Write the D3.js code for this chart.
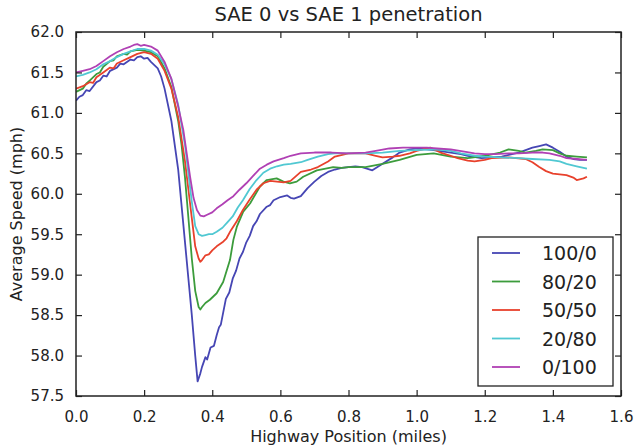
<!DOCTYPE html>
<html>
<head>
<meta charset="utf-8">
<script src="https://cdn.jsdelivr.net/npm/d3@7"></script>
<style>
  html, body { margin: 0; padding: 0; background: #ffffff; }
  svg { display: block; }
  text { font-family: "DejaVu Sans", sans-serif; fill: #222; }
</style>
</head>
<body>
<svg id="chart" width="634" height="447"></svg>
<script>
// Average speed (mph) along the highway, one run per SAE 0 / SAE 1 mix.
// Each entry is [position in miles, average speed in mph].
const speed100_0 = [
  [0.00,61.15],[0.01,61.20],[0.02,61.22],[0.03,61.28],[0.04,61.27],[0.06,61.38],[0.07,61.40],[0.08,61.46],
  [0.09,61.45],[0.10,61.52],[0.12,61.56],[0.13,61.61],[0.14,61.60],[0.16,61.66],[0.17,61.65],[0.18,61.69],
  [0.19,61.70],[0.20,61.67],[0.21,61.68],[0.22,61.63],[0.24,61.55],[0.25,61.45],[0.26,61.30],[0.28,60.90],
  [0.30,60.30],[0.31,59.85],[0.32,59.40],[0.33,58.95],[0.34,58.50],[0.35,58.00],[0.357,57.68],[0.365,57.78],
  [0.37,57.86],[0.38,57.98],[0.385,57.95],[0.395,58.10],[0.405,58.12],[0.413,58.25],[0.42,58.35],[0.425,58.38],
  [0.44,58.70],[0.45,58.78],[0.46,58.95],[0.47,59.05],[0.48,59.20],[0.49,59.28],[0.50,59.40],[0.51,59.48],
  [0.52,59.60],[0.53,59.66],[0.54,59.75],[0.56,59.84],[0.57,59.86],[0.58,59.92],[0.60,59.96],[0.62,59.98],
  [0.63,59.95],[0.64,59.94],[0.66,59.97],[0.68,60.07],[0.70,60.15],[0.72,60.22],[0.74,60.27],[0.76,60.30],
  [0.78,60.32],[0.80,60.33],[0.82,60.34],[0.84,60.33],[0.87,60.29],[0.90,60.37],[0.93,60.45],[0.95,60.51],
  [0.98,60.55],[1.00,60.56],[1.03,60.55],[1.05,60.54],[1.08,60.52],[1.10,60.51],[1.13,60.49],[1.15,60.47],
  [1.19,60.44],[1.22,60.45],[1.25,60.46],[1.28,60.49],[1.30,60.51],[1.32,60.54],[1.34,60.57],[1.36,60.59],
  [1.38,60.61],[1.40,60.57],[1.42,60.52],[1.44,60.46],[1.46,60.43],[1.48,60.42],[1.50,60.42]
];
const speed80_20 = [
  [0.00,61.26],[0.02,61.30],[0.03,61.36],[0.04,61.40],[0.06,61.48],[0.07,61.50],[0.08,61.57],[0.10,61.64],
  [0.11,61.65],[0.12,61.70],[0.14,61.73],[0.15,61.72],[0.16,61.76],[0.18,61.78],[0.20,61.77],[0.22,61.75],
  [0.24,61.70],[0.26,61.55],[0.28,61.32],[0.30,60.90],[0.31,60.60],[0.32,60.20],[0.33,59.70],[0.34,59.20],
  [0.35,58.80],[0.36,58.60],[0.365,58.57],[0.37,58.60],[0.38,58.65],[0.393,58.69],[0.413,58.77],[0.432,58.91],
  [0.452,59.18],[0.462,59.43],[0.472,59.59],[0.491,59.78],[0.511,59.88],[0.54,60.09],[0.56,60.17],[0.589,60.19],
  [0.609,60.15],[0.628,60.13],[0.648,60.15],[0.667,60.21],[0.707,60.29],[0.755,60.33],[0.78,60.32],[0.80,60.33],
  [0.85,60.33],[0.90,60.37],[0.95,60.42],[1.00,60.48],[1.05,60.50],[1.10,60.46],[1.15,60.44],[1.20,60.47],
  [1.245,60.51],[1.27,60.55],[1.30,60.53],[1.32,60.51],[1.35,60.53],[1.37,60.55],[1.40,60.54],[1.42,60.50],
  [1.44,60.47],[1.47,60.46],[1.50,60.45]
];
const speed50_50 = [
  [0.00,61.30],[0.02,61.33],[0.04,61.38],[0.05,61.37],[0.06,61.44],[0.08,61.50],[0.10,61.56],[0.11,61.55],
  [0.12,61.61],[0.14,61.65],[0.16,61.69],[0.18,61.73],[0.20,61.75],[0.22,61.73],[0.24,61.67],[0.26,61.52],
  [0.28,61.30],[0.30,60.95],[0.32,60.40],[0.33,60.05],[0.34,59.70],[0.35,59.35],[0.36,59.20],[0.365,59.16],
  [0.37,59.18],[0.38,59.24],[0.39,59.25],[0.40,59.30],[0.413,59.35],[0.43,59.40],[0.442,59.45],[0.455,59.55],
  [0.472,59.66],[0.49,59.80],[0.51,59.93],[0.53,60.05],[0.55,60.13],[0.57,60.16],[0.59,60.15],[0.61,60.14],
  [0.63,60.16],[0.66,60.27],[0.69,60.30],[0.71,60.33],[0.74,60.40],[0.76,60.46],[0.80,60.50],[0.85,60.50],
  [0.88,60.47],[0.90,60.45],[0.93,60.46],[0.95,60.47],[0.98,60.50],[1.00,60.53],[1.04,60.57],[1.07,60.51],
  [1.10,60.47],[1.12,60.44],[1.15,60.41],[1.17,60.40],[1.20,60.42],[1.22,60.44],[1.27,60.45],[1.32,60.43],
  [1.34,60.39],[1.36,60.33],[1.38,60.28],[1.40,60.25],[1.42,60.24],[1.44,60.23],[1.46,60.20],[1.47,60.17],
  [1.49,60.19],[1.50,60.21]
];
const speed20_80 = [
  [0.00,61.45],[0.02,61.47],[0.04,61.50],[0.06,61.54],[0.08,61.60],[0.10,61.64],[0.12,61.69],[0.14,61.73],
  [0.16,61.76],[0.18,61.79],[0.20,61.79],[0.22,61.77],[0.24,61.72],[0.26,61.60],[0.28,61.42],[0.30,61.10],
  [0.32,60.60],[0.33,60.25],[0.34,59.90],[0.35,59.60],[0.36,59.50],[0.37,59.48],[0.38,59.49],[0.39,59.50],
  [0.40,59.50],[0.413,59.53],[0.43,59.58],[0.445,59.65],[0.46,59.72],[0.475,59.83],[0.49,59.92],[0.51,60.06],
  [0.53,60.17],[0.55,60.26],[0.57,60.31],[0.59,60.34],[0.61,60.36],[0.63,60.37],[0.66,60.39],[0.68,60.42],
  [0.71,60.46],[0.74,60.49],[0.76,60.50],[0.80,60.50],[0.85,60.50],[0.90,60.51],[0.95,60.53],[1.00,60.54],
  [1.05,60.55],[1.08,60.54],[1.10,60.53],[1.13,60.50],[1.17,60.47],[1.20,60.46],[1.245,60.45],[1.30,60.44],
  [1.34,60.43],[1.39,60.42],[1.42,60.40],[1.44,60.37],[1.47,60.34],[1.50,60.31]
];
const speed0_100 = [
  [0.00,61.50],[0.02,61.52],[0.04,61.54],[0.06,61.58],[0.08,61.64],[0.10,61.70],[0.12,61.75],[0.14,61.79],
  [0.16,61.82],[0.17,61.84],[0.18,61.85],[0.19,61.83],[0.20,61.84],[0.22,61.82],[0.24,61.77],[0.26,61.63],
  [0.28,61.42],[0.30,61.08],[0.315,60.79],[0.325,60.50],[0.335,60.21],[0.345,59.95],[0.355,59.80],[0.365,59.73],
  [0.375,59.72],[0.385,59.74],[0.40,59.77],[0.413,59.82],[0.43,59.87],[0.445,59.92],[0.462,59.97],[0.48,60.05],
  [0.50,60.13],[0.52,60.22],[0.54,60.31],[0.56,60.36],[0.58,60.40],[0.61,60.44],[0.63,60.47],[0.66,60.50],
  [0.70,60.51],[0.75,60.51],[0.80,60.50],[0.85,60.51],[0.88,60.53],[0.92,60.56],[0.96,60.57],[1.00,60.57],
  [1.03,60.57],[1.06,60.56],[1.10,60.55],[1.14,60.52],[1.17,60.50],[1.20,60.49],[1.23,60.49],[1.27,60.50],
  [1.30,60.50],[1.34,60.51],[1.37,60.51],[1.39,60.50],[1.42,60.47],[1.44,60.44],[1.47,60.43],[1.50,60.42]
];

const seriesNames = ["100/0", "80/20", "50/50", "20/80", "0/100"];
const seriesColors = ["#4646b4", "#3c9c3c", "#e8412c", "#50c8d2", "#b040b4"];
const seriesData = [speed100_0, speed80_20, speed50_50, speed20_80, speed0_100];

const xTicks = [0.0, 0.2, 0.4, 0.6, 0.8, 1.0, 1.2, 1.4, 1.6];
const yTicks = [57.5, 58.0, 58.5, 59.0, 59.5, 60.0, 60.5, 61.0, 61.5, 62.0];

const titleText = "SAE 0 vs SAE 1 penetration";
const xLabelText = "Highway Position (miles)";
const yLabelText = "Average Speed (mph)";

const margin = { left: 76, right: 13, top: 32, bottom: 51 };
const W = 634, H = 447;
const innerW = W - margin.left - margin.right;
const innerH = H - margin.top - margin.bottom;

const svg = d3.select("#chart");
const g = svg.append("g").attr("transform", `translate(${margin.left},${margin.top})`);

const x = d3.scaleLinear().domain([0, 1.6]).range([0, innerW]);
const y = d3.scaleLinear().domain([57.5, 62.0]).range([innerH, 0]);

// clip the curves to the plotting area
svg.append("defs").append("clipPath").attr("id", "plot-clip")
  .append("rect").attr("width", innerW).attr("height", innerH);

const line = d3.line().x(d => x(d[0])).y(d => y(d[1]));

const curves = g.append("g").attr("clip-path", "url(#plot-clip)");
seriesData.forEach((data, i) => {
  curves.append("path")
    .datum(data)
    .attr("d", line)
    .attr("fill", "none")
    .attr("stroke", seriesColors[i])
    .attr("stroke-width", 1.8)
    .attr("stroke-linejoin", "round");
});

// axes: ticks point inward on all four sides
const tickLen = 6;
const fmt = d3.format(".1f");
const bottomAxis = d3.axisBottom(x).tickValues(xTicks).tickFormat(fmt).tickSizeInner(-tickLen).tickSizeOuter(0).tickPadding(tickLen + 9);
const leftAxis = d3.axisLeft(y).tickValues(yTicks).tickFormat(fmt).tickSizeInner(-tickLen).tickSizeOuter(0).tickPadding(tickLen + 6);
const topAxis = d3.axisTop(x).tickValues(xTicks).tickFormat("").tickSizeInner(-tickLen).tickSizeOuter(0);
const rightAxis = d3.axisRight(y).tickValues(yTicks).tickFormat("").tickSizeInner(-tickLen).tickSizeOuter(0);

function styleAxis(sel) {
  sel.select(".domain").remove();
  sel.selectAll(".tick line").attr("stroke", "#222").attr("stroke-width", 1.2);
  sel.selectAll(".tick text").attr("fill", "#222").style("font-size", "15px").style("font-family", "'DejaVu Sans', sans-serif");
}

g.append("g").attr("transform", `translate(0,${innerH})`).call(bottomAxis).call(styleAxis);
g.append("g").call(leftAxis).call(styleAxis);
g.append("g").call(topAxis).call(styleAxis);
g.append("g").attr("transform", `translate(${innerW},0)`).call(rightAxis).call(styleAxis);

// frame
g.append("rect").attr("width", innerW).attr("height", innerH)
  .attr("fill", "none").attr("stroke", "#222").attr("stroke-width", 1.5);

// title and axis labels
svg.append("text").attr("x", margin.left + innerW / 2).attr("y", 21)
  .attr("text-anchor", "middle").style("font-size", "19.5px").text(titleText);
svg.append("text").attr("x", margin.left + innerW / 2).attr("y", 442)
  .attr("text-anchor", "middle").style("font-size", "16px").text(xLabelText);
svg.append("text").attr("transform", `translate(22,${margin.top + innerH / 2}) rotate(-90)`)
  .attr("text-anchor", "middle").style("font-size", "16px").text(yLabelText);

// legend
const legend = svg.append("g").attr("transform", "translate(478,237)");
legend.append("rect").attr("width", 135).attr("height", 149)
  .attr("fill", "#fff").attr("stroke", "#222").attr("stroke-width", 1.3);
seriesNames.forEach((name, i) => {
  const cy = 16 + i * 28.5;
  legend.append("line").attr("x1", 14).attr("x2", 42).attr("y1", cy).attr("y2", cy)
    .attr("stroke", seriesColors[i]).attr("stroke-width", 1.8);
  legend.append("text").attr("x", 64).attr("y", cy + 7)
    .style("font-size", "19px").text(name);
});
</script>
</body>
</html>
